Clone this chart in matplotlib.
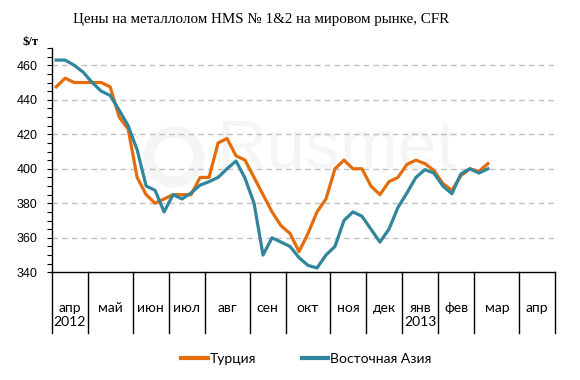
import matplotlib
matplotlib.use("Agg")
import matplotlib.pyplot as plt
import matplotlib.transforms as mtransforms
from matplotlib.lines import Line2D
from matplotlib.patches import Ellipse

# ---- data ----
title = "Цены на металлолом HMS № 1&2 на мировом рынке, CFR"
unit_label = "$/т"
series_names = ["Турция", "Восточная Азия"]
turkey = [447.5, 452.5, 450, 450, 450, 450, 447.5, 430, 423, 395, 385, 380, 382.5,
          385, 385, 385, 395, 395, 415, 417.5, 407.5, 405, 395, 385, 375, 367,
          362.5, 352, 362.5, 375, 382.5, 400, 405, 400, 400, 390, 385, 392.5,
          395, 402.5, 405, 403, 399, 391.5, 387.5, 396, 400, 398.5, 403]
east_asia = [463, 463, 460, 456, 450, 445, 442.5, 434, 425, 411, 390, 387.5, 375,
             385, 382.5, 386, 390.5, 392.5, 395, 400, 404.5, 394.5, 380, 350, 360,
             357.5, 355, 348.5, 344, 342.5, 350, 355, 370, 375, 372.5, 365, 357.5,
             365, 377.5, 386, 395, 399.5, 397.5, 390, 385.5, 397, 400, 397.5, 400]
month_labels = ["апр\n2012", "май", "июн", "июл", "авг", "сен", "окт", "ноя",
                "дек", "янв\n2013", "фев", "мар", "апр"]
weeks_per_month = [4, 5, 4, 4, 5, 4, 5, 4, 4, 4, 4, 5, 4]
y_ticks = [340, 360, 380, 400, 420, 440, 460]

c_turkey = "#E46C0A"
c_asia = "#31859C"

W, H = 580, 380
fig = plt.figure(figsize=(W / 100, H / 100), dpi=100)
ax_w, ax_h = 555.3 - 51.7, 272.3 - 48
ax = fig.add_axes([51.7 / W, 1 - 272.3 / H, ax_w / W, ax_h / H])

n_weeks = sum(weeks_per_month)
ax.set_xlim(0, n_weeks)
ax.set_ylim(340, 470)

# faint watermark
wm = "#F5F5F5"
ax.text((216 - 51.7) / ax_w, (272.3 - 150) / ax_h, "Rusmet", transform=ax.transAxes,
        fontsize=50, family="Liberation Sans", color=wm, ha="left", va="center",
        zorder=0)
ax.add_patch(Ellipse(((174 - 51.7) / ax_w, (272.3 - 157) / ax_h), 50 / ax_w, 50 / ax_h,
                     transform=ax.transAxes, fill=False, ec=wm, lw=8, zorder=0))

# grid
for v in y_ticks[1:]:
    ax.axhline(v, color="#BFBFBF", lw=1.0, ls=(0, (4, 3)), zorder=1)

ax.plot([i + 0.5 for i in range(len(turkey))], turkey, color=c_turkey, lw=2.3,
        solid_joinstyle="round", zorder=3)
ax.plot([i + 0.5 for i in range(len(east_asia))], east_asia, color=c_asia, lw=2.3,
        solid_joinstyle="round", zorder=3)

for s in ["top", "right"]:
    ax.spines[s].set_visible(False)
for s in ["left", "bottom"]:
    ax.spines[s].set_color("black")
    ax.spines[s].set_linewidth(1.0)

ax.set_yticks(y_ticks)
ax.set_yticks(range(340, 471, 5), minor=True)
ax.tick_params(axis="y", which="both", direction="out", length=3.6, width=0.8,
               pad=6.5, labelsize=9)
for lab in ax.get_yticklabels():
    lab.set_family("Liberation Sans")
ax.set_xticks([])

# month separators and labels
bounds = [0]
for w in weeks_per_month:
    bounds.append(bounds[-1] + w)
trans = mtransforms.blended_transform_factory(ax.transData, fig.transFigure)
for b in bounds:
    ax.add_line(Line2D([b, b], [1 - 272.3 / H, 1 - 333 / H], transform=trans,
                       color="black", lw=1.0, clip_on=False))
for lab, a, b in zip(month_labels, bounds[:-1], bounds[1:]):
    ax.text((a + b) / 2, 1 - 302 / H, lab, transform=trans, ha="center", va="top",
            fontsize=10, family="Lato", linespacing=1.2)

fig.text(261.5 / W, 1 - 20 / H, title, ha="center", va="center", fontsize=10.8,
         family="Liberation Serif")
fig.text(31 / W, 1 - 42 / H, unit_label, ha="center", va="center", fontsize=9,
         family="Liberation Serif", weight="bold")

handles = [Line2D([], [], color=c_turkey, lw=3), Line2D([], [], color=c_asia, lw=3)]
fig.legend(handles, series_names, loc="center", bbox_to_anchor=(306.5 / W, 1 - 359 / H),
           ncol=2, frameon=False, prop={"family": "Lato", "size": 10},
           handlelength=1.9, handletextpad=0.15, columnspacing=3.3)

fig.savefig("out.png", dpi=100)
